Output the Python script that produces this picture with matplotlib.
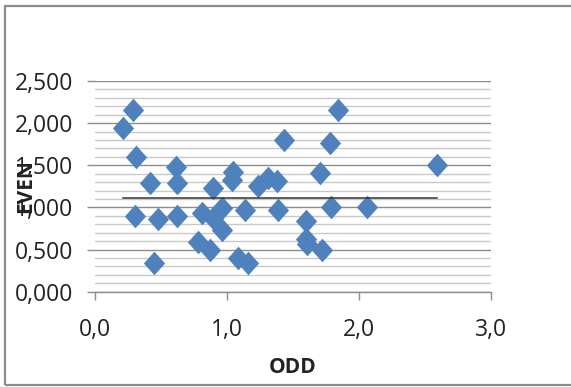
import numpy as np
import matplotlib
matplotlib.use("Agg")
import matplotlib.pyplot as plt
from matplotlib.path import Path
from matplotlib.patches import Rectangle
from matplotlib.ticker import MultipleLocator, FuncFormatter

# ---- data ----
odd = [0.285, 0.215, 0.311, 0.417, 0.614, 0.619, 0.303, 0.477, 0.619, 0.447,
       0.783, 0.871, 0.808, 0.896, 0.896, 0.960, 0.960, 1.048, 1.035, 1.086,
       1.161, 1.136, 1.237, 1.313, 1.376, 1.430, 1.389, 1.843, 1.780, 1.705,
       2.593, 1.786, 2.058, 1.598, 1.595, 1.606, 1.717]
even = [2.155, 1.938, 1.594, 1.293, 1.483, 1.293, 0.898, 0.859, 0.898, 0.344,
        0.593, 0.495, 0.930, 1.234, 0.880, 0.989, 0.732, 1.423, 1.325, 0.396,
        0.337, 0.969, 1.250, 1.345, 1.310, 1.800, 0.969, 2.155, 1.760, 1.404,
        1.499, 1.008, 1.008, 0.836, 0.623, 0.565, 0.490]
x_ticks = [0.0, 1.0, 2.0, 3.0]
y_ticks = [0.0, 0.5, 1.0, 1.5, 2.0, 2.5]
x_label = "ODD"
y_label = "EVEN"

plt.rcParams['font.family'] = ['Open Sans', 'DejaVu Sans']

fig = plt.figure(figsize=(5.71, 3.87), dpi=100)
ax = fig.add_axes([95/571, 1-291.7/387, 396/571, 210.7/387])

diamond = Path([(0, 1), (0.9, 0), (0, -1), (-0.9, 0), (0, 1)],
               [Path.MOVETO, Path.LINETO, Path.LINETO, Path.LINETO, Path.CLOSEPOLY])
ax.plot(odd, even, linestyle='none', marker=diamond, markersize=17,
        color='#4F81BD', markeredgewidth=0, zorder=3)

mean_y = np.mean(even)
ax.plot([min(odd), max(odd)], [mean_y, mean_y], color='#333333', lw=1.1, zorder=4)

ax.set_xlim(0, 3)
ax.set_ylim(0, 2.5)
ax.set_xticks(x_ticks)
ax.set_yticks(y_ticks)
ax.yaxis.set_minor_locator(MultipleLocator(0.1))
ax.xaxis.set_major_formatter(FuncFormatter(lambda v, p: f"{v:.1f}".replace('.', ',')))
ax.yaxis.set_major_formatter(FuncFormatter(lambda v, p: f"{v:.3f}".replace('.', ',')))

ax.grid(True, which='major', axis='y', color='#8c8c8c', lw=1.0, zorder=0)
ax.grid(True, which='minor', axis='y', color='#c8c8c8', lw=1.0, zorder=0)
ax.set_axisbelow(True)

for s in ['top', 'right', 'left']:
    ax.spines[s].set_visible(False)
ax.spines['bottom'].set_color('#8c8c8c')
ax.spines['bottom'].set_linewidth(1.0)

ax.tick_params(axis='x', which='major', direction='out', length=6, width=1,
               color='#8c8c8c', labelsize=16.5, pad=13, labelcolor='#222222')
ax.tick_params(axis='y', which='major', direction='out', length=6, width=1,
               color='#8c8c8c', labelsize=16.5, pad=10, labelcolor='#222222')
ax.tick_params(axis='y', which='minor', length=0)

ax.set_xlabel(x_label, fontsize=15, fontweight='bold', color='#222222')
ax.xaxis.set_label_coords(0.5, -0.362)
ax.xaxis.label.set_va('center')
ax.set_ylabel(y_label, fontsize=15, fontweight='bold', color='#222222')
ax.yaxis.set_label_coords(-0.175, 0.5)
ax.yaxis.label.set_va('center')

fig.patches.append(Rectangle((4.5/571, 1 - 385/387), 1.0, (385 - 6) / 387,
                             transform=fig.transFigure, fill=False,
                             edgecolor='#8c8c8c', lw=1.6, clip_on=False))

fig.savefig('out.png', dpi=100)
